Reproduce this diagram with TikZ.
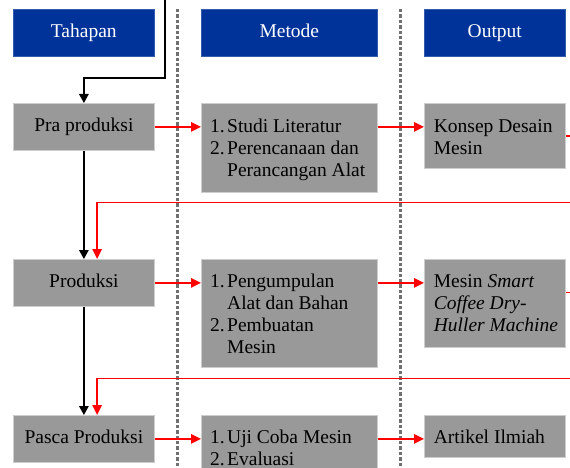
\documentclass[tikz,border=0pt]{standalone}
\usepackage{fontspec}
\setmainfont{Liberation Serif}
\usetikzlibrary{arrows.meta,calc}
\definecolor{hdrblue}{RGB}{0,51,153}
\definecolor{boxgray}{RGB}{153,153,153}
\definecolor{edgegray}{RGB}{205,205,205}
\definecolor{divgray}{RGB}{112,112,112}
\definecolor{flowred}{RGB}{255,0,0}
\newcommand{\nbr}[1]{\makebox[17pt][l]{#1}}
\begin{document}
\begin{tikzpicture}[x=1pt,y=-1pt,
 font=\fontsize{19.5}{22}\selectfont,
 hdr/.style={fill=hdrblue,draw=hdrblue!80!white,line width=0.6pt,text=white,inner sep=0pt,anchor=north west,text height=14pt,text depth=4pt},
 gbox/.style={fill=boxgray,draw=edgegray,line width=0.8pt,inner sep=0pt,anchor=north west,text height=14pt,text depth=4pt},
 btxt/.style={anchor=base west,inner sep=0pt},
 blk/.style={draw=black,line width=1.5pt,-{Triangle[length=9pt,width=9.5pt]}},
 rd/.style={draw=flowred,line width=1.4pt,-{Triangle[length=10pt,width=9.5pt]}},
 divider/.style={draw=divgray,line width=2.8pt,dash pattern=on 3.4pt off 2pt}]
\clip (0,0) rectangle (570,468);
% dividers
\draw[divider] (177.7,9) -- (177.7,472);
\draw[divider] (400.7,9) -- (400.7,472);
% headers
\node[hdr,minimum width=141pt,minimum height=47pt] (hT) at (13,9) {Tahapan};
\node[hdr,minimum width=176pt,minimum height=47pt] (hM) at (201,9) {Metode};
\node[hdr,minimum width=141pt,minimum height=47pt] (hO) at (424,9) {Output};
% row 1
\node[gbox,minimum width=141pt,minimum height=47pt] (pra) at (13,103) {Pra produksi};
\node[gbox,minimum width=176pt,minimum height=89pt] (m1) at (201,103) {};
\node[gbox,minimum width=141pt,minimum height=65pt] (o1) at (424,103) {};
% row 2
\node[gbox,minimum width=141pt,minimum height=47pt] (prod) at (13,259) {Produksi};
\node[gbox,minimum width=176pt,minimum height=108pt] (m2) at (201,259) {};
\node[gbox,minimum width=141pt,minimum height=88pt] (o2) at (424,259) {};
% row 3
\node[gbox,minimum width=141pt,minimum height=47pt] (pasca) at (13,415) {Pasca Produksi};
\node[gbox,minimum width=176pt,minimum height=70pt] (m3) at (201,415) {};
\node[gbox,minimum width=141pt,minimum height=42pt] (o3) at (424,415) {};
% texts
\node[btxt] (m1t) at (210,132) {\begin{tabular}[t]{@{}l@{}}\nbr{1.}Studi Literatur\\ \nbr{2.}Perencanaan dan\\ \nbr{}Perancangan Alat\end{tabular}};
\node[btxt] (o1t) at (433.7,132) {\begin{tabular}[t]{@{}l@{}}Konsep Desain\\ Mesin\end{tabular}};
\node[btxt] (m2t) at (210,287) {\begin{tabular}[t]{@{}l@{}}\nbr{1.}Pengumpulan\\ \nbr{}Alat dan Bahan\\ \nbr{2.}Pembuatan\\ \nbr{}Mesin\end{tabular}};
\node[btxt] (o2t) at (433.7,287) {\begin{tabular}[t]{@{}l@{}}Mesin \textit{Smart}\\ \textit{Coffee Dry-}\\ \textit{Huller Machine}\end{tabular}};
\node[btxt] (m3t) at (210,443) {\begin{tabular}[t]{@{}l@{}}\nbr{1.}Uji Coba Mesin\\ \nbr{2.}Evaluasi\end{tabular}};
\node[btxt] (o3t) at (433.7,443) {Artikel Ilmiah};
% black flow
\coordinate (src) at (165,-5);
\draw[blk] (src) -- (165,78) -| (pra.north);
\draw[blk] (pra.south) -- (prod.north);
\draw[blk] (prod.south) -- (pasca.north);
% red flow
\draw[rd] (pra.east) -- (pra.east -| m1.west);
\draw[rd] (pra.east -| m1.east) -- (pra.east -| o1.west);
\draw[rd] (prod.east) -- (prod.east -| m2.west);
\draw[rd] (prod.east -| m2.east) -- (prod.east -| o2.west);
\draw[rd] (pasca.east) -- (pasca.east -| m3.west);
\draw[rd] (pasca.east -| m3.east) -- (pasca.east -| o3.west);
\coordinate (loop1) at (585,202.7);
\coordinate (loop2) at (585,378.3);
\draw[rd] (o1.east) -| (loop1) -| ([xshift=13.2pt]prod.north);
\draw[rd] ([yshift=11pt]o2.east) -| (loop2) -| ([xshift=13.2pt]pasca.north);
\end{tikzpicture}
\end{document}
